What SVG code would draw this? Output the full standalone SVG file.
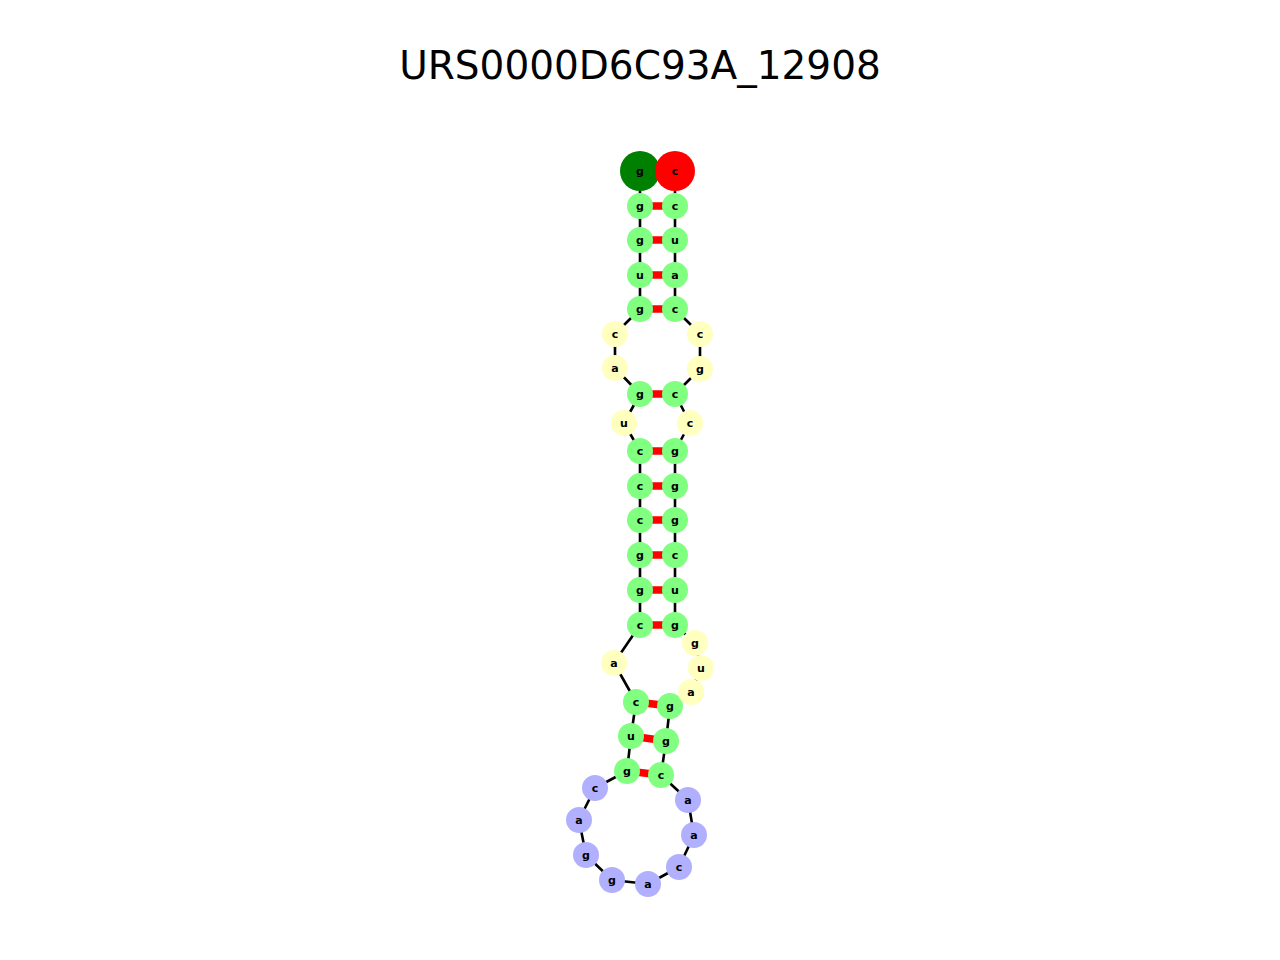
<svg xmlns="http://www.w3.org/2000/svg" width="1280" height="960" viewBox="0 0 1280 960">
<style>
.bb{stroke:#000;stroke-width:2.6;fill:none;stroke-linejoin:round}
.bp{stroke:#ff0000;stroke-width:7.5}
.s{fill:#80ff80}
.y{fill:#ffffbf}
.h{fill:#b0b0ff}
circle{stroke:none}
.n text{font-family:"DejaVu Sans",sans-serif;font-weight:bold;font-size:11px;text-anchor:middle;fill:#000}
.title{font-family:"DejaVu Sans",sans-serif;font-size:39px;text-anchor:middle;fill:#000}
</style>
<rect width="1280" height="960" fill="#fff"/>
<text class="title" x="640" y="79">URS0000D6C93A_12908</text>
<g id="connectors">
<path class="bb" d="M640,171 L640,206 L640,240 L640,275 L640,309 L615,334 L615,368 L640,394 L624,423 L640,451 L640,486 L640,520 L640,555 L640,590 L640,625 L614,663 L636,702 L631,736 L627,771 L595,788 L579,820 L586,855 L612,880 L648,884 L679,867 L694,835 L688,800 L661,775 L666,741 L670,706 L691,692 L701,668 L695,643 L675,625 L675,590 L675,555 L675,520 L675,486 L675,451 L690,423 L675,394 L700,369 L700,334 L675,309 L675,275 L675,240 L675,206 L675,171"/>
<line class="bp" x1="640" y1="206" x2="675" y2="206"/>
<line class="bp" x1="640" y1="240" x2="675" y2="240"/>
<line class="bp" x1="640" y1="275" x2="675" y2="275"/>
<line class="bp" x1="640" y1="309" x2="675" y2="309"/>
<line class="bp" x1="640" y1="394" x2="675" y2="394"/>
<line class="bp" x1="640" y1="451" x2="675" y2="451"/>
<line class="bp" x1="640" y1="486" x2="675" y2="486"/>
<line class="bp" x1="640" y1="520" x2="675" y2="520"/>
<line class="bp" x1="640" y1="555" x2="675" y2="555"/>
<line class="bp" x1="640" y1="590" x2="675" y2="590"/>
<line class="bp" x1="640" y1="625" x2="675" y2="625"/>
<line class="bp" x1="636" y1="702" x2="670" y2="706"/>
<line class="bp" x1="631" y1="736" x2="666" y2="741"/>
<line class="bp" x1="627" y1="771" x2="661" y2="775"/>
</g>
<g class="n">
<g id="n1"><circle cx="640" cy="171" r="20" fill="#008000"/><text x="640" y="174.5">g</text></g>
<g id="n2"><circle class="s" cx="640" cy="206" r="13"/><text x="640" y="209.5">g</text></g>
<g id="n3"><circle class="s" cx="640" cy="240" r="13"/><text x="640" y="243.5">g</text></g>
<g id="n4"><circle class="s" cx="640" cy="275" r="13"/><text x="640" y="278.5">u</text></g>
<g id="n5"><circle class="s" cx="640" cy="309" r="13"/><text x="640" y="312.5">g</text></g>
<g id="n6"><circle class="y" cx="615" cy="334" r="13"/><text x="615" y="337.5">c</text></g>
<g id="n7"><circle class="y" cx="615" cy="368" r="13"/><text x="615" y="371.5">a</text></g>
<g id="n8"><circle class="s" cx="640" cy="394" r="13"/><text x="640" y="397.5">g</text></g>
<g id="n9"><circle class="y" cx="624" cy="423" r="13"/><text x="624" y="426.5">u</text></g>
<g id="n10"><circle class="s" cx="640" cy="451" r="13"/><text x="640" y="454.5">c</text></g>
<g id="n11"><circle class="s" cx="640" cy="486" r="13"/><text x="640" y="489.5">c</text></g>
<g id="n12"><circle class="s" cx="640" cy="520" r="13"/><text x="640" y="523.5">c</text></g>
<g id="n13"><circle class="s" cx="640" cy="555" r="13"/><text x="640" y="558.5">g</text></g>
<g id="n14"><circle class="s" cx="640" cy="590" r="13"/><text x="640" y="593.5">g</text></g>
<g id="n15"><circle class="s" cx="640" cy="625" r="13"/><text x="640" y="628.5">c</text></g>
<g id="n16"><circle class="y" cx="614" cy="663" r="13"/><text x="614" y="666.5">a</text></g>
<g id="n17"><circle class="s" cx="636" cy="702" r="13"/><text x="636" y="705.5">c</text></g>
<g id="n18"><circle class="s" cx="631" cy="736" r="13"/><text x="631" y="739.5">u</text></g>
<g id="n19"><circle class="s" cx="627" cy="771" r="13"/><text x="627" y="774.5">g</text></g>
<g id="n20"><circle class="h" cx="595" cy="788" r="13"/><text x="595" y="791.5">c</text></g>
<g id="n21"><circle class="h" cx="579" cy="820" r="13"/><text x="579" y="823.5">a</text></g>
<g id="n22"><circle class="h" cx="586" cy="855" r="13"/><text x="586" y="858.5">g</text></g>
<g id="n23"><circle class="h" cx="612" cy="880" r="13"/><text x="612" y="883.5">g</text></g>
<g id="n24"><circle class="h" cx="648" cy="884" r="13"/><text x="648" y="887.5">a</text></g>
<g id="n25"><circle class="h" cx="679" cy="867" r="13"/><text x="679" y="870.5">c</text></g>
<g id="n26"><circle class="h" cx="694" cy="835" r="13"/><text x="694" y="838.5">a</text></g>
<g id="n27"><circle class="h" cx="688" cy="800" r="13"/><text x="688" y="803.5">a</text></g>
<g id="n28"><circle class="s" cx="661" cy="775" r="13"/><text x="661" y="778.5">c</text></g>
<g id="n29"><circle class="s" cx="666" cy="741" r="13"/><text x="666" y="744.5">g</text></g>
<g id="n30"><circle class="s" cx="670" cy="706" r="13"/><text x="670" y="709.5">g</text></g>
<g id="n31"><circle class="y" cx="691" cy="692" r="13"/><text x="691" y="695.5">a</text></g>
<g id="n32"><circle class="y" cx="701" cy="668" r="13"/><text x="701" y="671.5">u</text></g>
<g id="n33"><circle class="y" cx="695" cy="643" r="13"/><text x="695" y="646.5">g</text></g>
<g id="n34"><circle class="s" cx="675" cy="625" r="13"/><text x="675" y="628.5">g</text></g>
<g id="n35"><circle class="s" cx="675" cy="590" r="13"/><text x="675" y="593.5">u</text></g>
<g id="n36"><circle class="s" cx="675" cy="555" r="13"/><text x="675" y="558.5">c</text></g>
<g id="n37"><circle class="s" cx="675" cy="520" r="13"/><text x="675" y="523.5">g</text></g>
<g id="n38"><circle class="s" cx="675" cy="486" r="13"/><text x="675" y="489.5">g</text></g>
<g id="n39"><circle class="s" cx="675" cy="451" r="13"/><text x="675" y="454.5">g</text></g>
<g id="n40"><circle class="y" cx="690" cy="423" r="13"/><text x="690" y="426.5">c</text></g>
<g id="n41"><circle class="s" cx="675" cy="394" r="13"/><text x="675" y="397.5">c</text></g>
<g id="n42"><circle class="y" cx="700" cy="369" r="13"/><text x="700" y="372.5">g</text></g>
<g id="n43"><circle class="y" cx="700" cy="334" r="13"/><text x="700" y="337.5">c</text></g>
<g id="n44"><circle class="s" cx="675" cy="309" r="13"/><text x="675" y="312.5">c</text></g>
<g id="n45"><circle class="s" cx="675" cy="275" r="13"/><text x="675" y="278.5">a</text></g>
<g id="n46"><circle class="s" cx="675" cy="240" r="13"/><text x="675" y="243.5">u</text></g>
<g id="n47"><circle class="s" cx="675" cy="206" r="13"/><text x="675" y="209.5">c</text></g>
<g id="n48"><circle cx="675" cy="171" r="20" fill="#ff0000"/><text x="675" y="174.5">c</text></g>
</g>
</svg>
